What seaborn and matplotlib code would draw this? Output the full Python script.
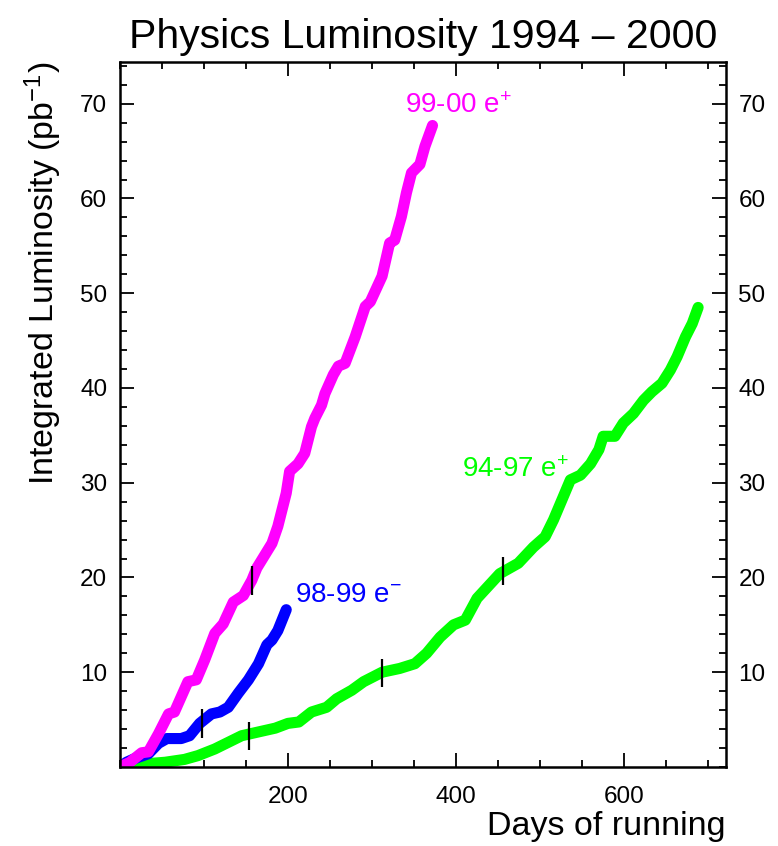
import numpy as np
import pandas as pd
import matplotlib
matplotlib.use("Agg")
import matplotlib.pyplot as plt
from matplotlib.ticker import MultipleLocator
import seaborn as sns

# integrated luminosity (pb^-1) vs days of running
days_9900 = [0, 12, 26, 34, 46, 58, 65, 81, 91, 101, 113, 123, 135, 147, 157, 163, 181, 188,
             198, 202, 212, 220, 228, 232, 240, 244, 254, 260, 268, 274, 280, 292, 298, 312,
             321, 327, 335, 341, 347, 357, 363, 372]
lumi_9900 = [0, 0.5, 1.5, 1.6, 3.5, 5.6, 5.8, 9.0, 9.2, 11.3, 14.1, 15.1, 17.4, 18.1, 19.7,
             21.0, 23.6, 25.4, 28.9, 31.2, 32.0, 33.1, 35.9, 36.8, 38.2, 39.4, 41.4, 42.3,
             42.6, 44.0, 45.4, 48.6, 49.1, 51.8, 55.3, 55.6, 58.1, 60.6, 62.7, 63.6, 65.5, 67.7]

days_9899 = [0, 8, 18, 34, 46, 56, 73, 83, 95, 109, 119, 129, 141, 153, 165, 175, 181, 188, 198]
lumi_9899 = [0, 0.5, 0.9, 1.4, 2.5, 3.0, 3.0, 3.3, 4.6, 5.6, 5.8, 6.3, 7.8, 9.2, 10.9, 12.9,
             13.4, 14.4, 16.6]

days_9497 = [0, 26, 54, 77, 93, 113, 129, 145, 165, 185, 200, 213, 228, 246, 258, 276, 290,
             312, 333, 351, 365, 381, 397, 411, 425, 452, 474, 492, 506, 516, 526, 536, 548,
             560, 570, 575, 589, 599, 611, 623, 633, 645, 655, 663, 673, 681, 688]
lumi_9497 = [0, 0.3, 0.5, 0.8, 1.2, 1.9, 2.6, 3.3, 3.7, 4.1, 4.6, 4.75, 5.8, 6.3, 7.2, 8.1,
             9.0, 10.0, 10.4, 10.9, 12.0, 13.7, 15.0, 15.5, 17.8, 20.4, 21.5, 23.2, 24.3, 26.1,
             28.2, 30.3, 30.8, 32.0, 33.5, 34.9, 34.9, 36.3, 37.3, 38.7, 39.6, 40.5, 41.9,
             43.3, 45.4, 46.8, 48.5]

# year boundary markers on the curves
mark_days = [157, 98, 154, 312, 456]
mark_lumi = [19.7, 4.6, 3.3, 9.9, 20.7]

periods = ["94-97", "98-99", "99-00"]
colors = ["#00ff00", "#0000ff", "#ff00ff"]

df = pd.concat([
    pd.DataFrame({"days": days_9497, "lumi": lumi_9497, "period": "94-97"}),
    pd.DataFrame({"days": days_9899, "lumi": lumi_9899, "period": "98-99"}),
    pd.DataFrame({"days": days_9900, "lumi": lumi_9900, "period": "99-00"}),
])

sns.set_theme(style="ticks")
plt.rcParams["font.family"] = ["Liberation Sans", "DejaVu Sans"]
plt.rcParams["mathtext.fontset"] = "custom"
plt.rcParams["mathtext.rm"] = "Liberation Sans"
plt.rcParams["mathtext.it"] = "Liberation Sans"
plt.rcParams["text.color"] = "black"
plt.rcParams["axes.labelcolor"] = "black"
plt.rcParams["xtick.color"] = "black"
plt.rcParams["ytick.color"] = "black"

fig = plt.figure(figsize=(7.78, 8.46), dpi=100)
ax = fig.add_axes([0.154, 0.0934, 0.779, 0.8333])

sns.lineplot(data=df, x="days", y="lumi", hue="period", hue_order=periods,
             palette=colors, linewidth=8, sort=False, estimator=None,
             legend=False, ax=ax, solid_capstyle="round", solid_joinstyle="round")

ax.vlines(mark_days, np.array(mark_lumi) - 1.5, np.array(mark_lumi) + 1.5,
          color="black", linewidth=1.6, zorder=5)

ax.set_xlim(0, 721)
ax.set_ylim(0, 74.4)
ax.set_xticks([200, 400, 600])
ax.set_yticks([10, 20, 30, 40, 50, 60, 70])
ax.xaxis.set_minor_locator(MultipleLocator(50))
ax.yaxis.set_minor_locator(MultipleLocator(2))
ax.tick_params(which="both", direction="in", top=True, right=True,
               labelright=True, labelsize=17.5, width=1.3)
ax.tick_params(axis="y", pad=9)
ax.tick_params(axis="x", pad=14)
ax.tick_params(which="major", length=10)
ax.tick_params(which="minor", length=5)
for s in ax.spines.values():
    s.set_linewidth(1.8)
    s.set_color("black")

ax.set_title("Physics Luminosity 1994 – 2000", fontsize=29.5, pad=10)
ax.set_xlabel("Days of running", fontsize=24.5, loc="right")
ax.xaxis.set_label_coords(1.0, -0.062)
ax.set_ylabel(r"Integrated Luminosity (pb$^{\mathregular{-1}}$)", fontsize=24.5,
              loc="top", labelpad=12)

ax.text(339, 69.8, r"99-00 e$^{\mathregular{+}}$", color="#ff00ff", fontsize=20, va="center")
ax.text(209, 18.2, r"98-99 e$^{\mathregular{-}}$", color="#0000ff", fontsize=20, va="center")
ax.text(407, 31.3, r"94-97 e$^{\mathregular{+}}$", color="#00ff00", fontsize=20, va="center")

fig.savefig("out.png", dpi=100)
